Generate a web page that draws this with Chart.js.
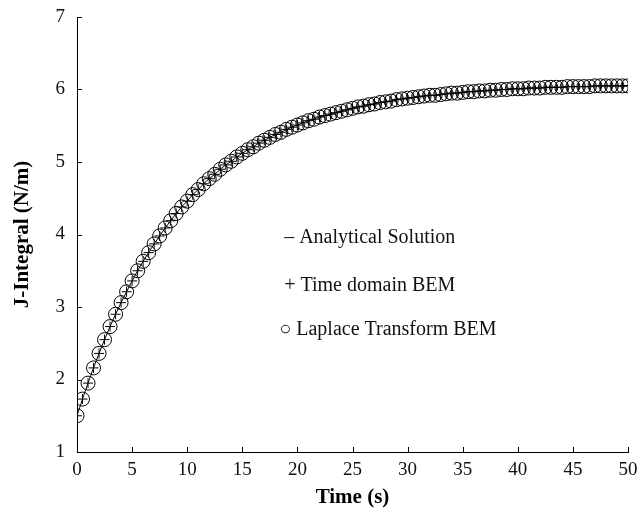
<!DOCTYPE html>
<html lang="en">
<head>
  <meta charset="UTF-8">
  <title>J-Integral vs Time</title>
  <script src="https://cdn.jsdelivr.net/npm/chart.js"></script>
  <style>
    body { margin: 0; background: #fff; }
    #chart { display: block; }
  </style>
</head>
<body>
  <canvas id="chart" width="640" height="514"></canvas>
  <script>
    // Tiempo (s), cada 0.5 s
    const times = [
      0, 0.5, 1, 1.5, 2, 2.5, 3, 3.5, 4, 4.5, 5, 5.5, 6, 6.5, 7, 7.5, 8, 8.5, 9, 9.5,
      10, 10.5, 11, 11.5, 12, 12.5, 13, 13.5, 14, 14.5, 15, 15.5, 16, 16.5, 17, 17.5, 18, 18.5, 19, 19.5,
      20, 20.5, 21, 21.5, 22, 22.5, 23, 23.5, 24, 24.5, 25, 25.5, 26, 26.5, 27, 27.5, 28, 28.5, 29, 29.5,
      30, 30.5, 31, 31.5, 32, 32.5, 33, 33.5, 34, 34.5, 35, 35.5, 36, 36.5, 37, 37.5, 38, 38.5, 39, 39.5,
      40, 40.5, 41, 41.5, 42, 42.5, 43, 43.5, 44, 44.5, 45, 45.5, 46, 46.5, 47, 47.5, 48, 48.5, 49, 49.5, 50
    ];

    // J-Integral (N/m)
    const analytical = [
      1.50, 1.73, 1.95, 2.16, 2.36, 2.55, 2.73, 2.90, 3.06, 3.21,
      3.36, 3.50, 3.63, 3.75, 3.87, 3.98, 4.09, 4.19, 4.29, 4.38,
      4.46, 4.55, 4.62, 4.70, 4.77, 4.83, 4.90, 4.96, 5.01, 5.07,
      5.12, 5.17, 5.21, 5.26, 5.30, 5.34, 5.38, 5.41, 5.45, 5.48,
      5.51, 5.54, 5.57, 5.59, 5.62, 5.64, 5.66, 5.68, 5.70, 5.72,
      5.74, 5.76, 5.77, 5.79, 5.80, 5.82, 5.83, 5.84, 5.86, 5.87,
      5.88, 5.89, 5.90, 5.91, 5.92, 5.92, 5.93, 5.94, 5.95, 5.95,
      5.96, 5.97, 5.97, 5.98, 5.98, 5.99, 5.99, 6.00, 6.00, 6.01,
      6.01, 6.01, 6.02, 6.02, 6.02, 6.03, 6.03, 6.03, 6.03, 6.04,
      6.04, 6.04, 6.04, 6.04, 6.05, 6.05, 6.05, 6.05, 6.05, 6.05, 6.05
    ];
    const timeBem = analytical;
    const laplaceBem = analytical;

    const xTicks = [0, 5, 10, 15, 20, 25, 30, 35, 40, 45, 50];
    const yTicks = [1, 2, 3, 4, 5, 6, 7];
    const legendItems = ['\u2013 Analytical Solution', '+ Time domain BEM', '\u25CB Laplace Transform BEM'];

    const serif = '"Liberation Serif", "Times New Roman", serif';

    function pts(ys) {
      return times.map((t, i) => ({ x: t, y: ys[i] }));
    }

    // ticks hacia dentro + leyenda en el area del grafico
    const extras = {
      id: 'extras',
      afterDraw(chart) {
        const c = chart.ctx;
        const xs = chart.scales.x, ys = chart.scales.y;
        c.save();
        c.strokeStyle = '#000';
        c.lineWidth = 1;
        c.beginPath();
        xTicks.forEach(v => {
          const px = Math.round(xs.getPixelForValue(v)) + 0.5;
          c.moveTo(px, ys.bottom);
          c.lineTo(px, ys.bottom - 5);
        });
        yTicks.forEach(v => {
          const py = Math.round(ys.getPixelForValue(v)) + 0.5;
          c.moveTo(xs.left, py);
          c.lineTo(xs.left + 5, py);
        });
        c.stroke();

        c.fillStyle = '#111';
        c.font = '20px ' + serif;
        c.textBaseline = 'middle';
        const lx = xs.getPixelForValue(18.8);
        const ly = [3.95, 3.30, 2.68];
        legendItems.forEach((txt, i) => {
          const x = i === 2 ? lx - 5 : lx;
          c.fillText(txt, x, ys.getPixelForValue(ly[i]));
        });
        c.restore();
      }
    };

    new Chart(document.getElementById('chart'), {
      type: 'scatter',
      data: {
        datasets: [
          {
            label: 'Analytical Solution',
            data: pts(analytical),
            showLine: true,
            borderColor: '#000',
            borderWidth: 1,
            pointRadius: 0,
            tension: 0.3
          },
          {
            label: 'Time domain BEM',
            data: pts(timeBem),
            pointStyle: 'cross',
            pointRadius: 5,
            borderColor: '#000',
            borderWidth: 1
          },
          {
            label: 'Laplace Transform BEM',
            data: pts(laplaceBem),
            pointStyle: 'circle',
            pointRadius: 7,
            backgroundColor: 'rgba(0,0,0,0)',
            borderColor: '#000',
            borderWidth: 1
          }
        ]
      },
      options: {
        responsive: false,
        animation: false,
        layout: { padding: { top: 0, right: 0, left: 4, bottom: 0 } },
        plugins: {
          legend: { display: false },
          tooltip: { enabled: false }
        },
        scales: {
          x: {
            type: 'linear',
            min: 0,
            max: 50,
            afterBuildTicks: s => { s.ticks = xTicks.map(v => ({ value: v })); },
            afterFit: s => { s.height = 62; s.paddingRight = 12; s.paddingLeft = 0; },
            grid: { display: false, drawTicks: false },
            border: { color: '#000', width: 1 },
            ticks: { color: '#111', font: { family: serif, size: 19 }, padding: 7 },
            title: {
              display: true,
              text: 'Time (s)',
              color: '#000',
              font: { family: serif, size: 21, weight: 'bold' },
              padding: { top: 6 }
            }
          },
          y: {
            min: 1,
            max: 7,
            afterBuildTicks: s => { s.ticks = yTicks.map(v => ({ value: v })); },
            afterFit: s => { s.width = 73; s.paddingTop = 17; s.paddingBottom = 0; },
            grid: { display: false, drawTicks: false },
            border: { color: '#000', width: 1 },
            ticks: { color: '#111', font: { family: serif, size: 19 }, padding: 12 },
            title: {
              display: true,
              text: 'J-Integral (N/m)',
              color: '#000',
              font: { family: serif, size: 21, weight: 'bold' },
              padding: { top: 6, bottom: 0 }
            }
          }
        }
      },
      plugins: [extras]
    });
  </script>
</body>
</html>
